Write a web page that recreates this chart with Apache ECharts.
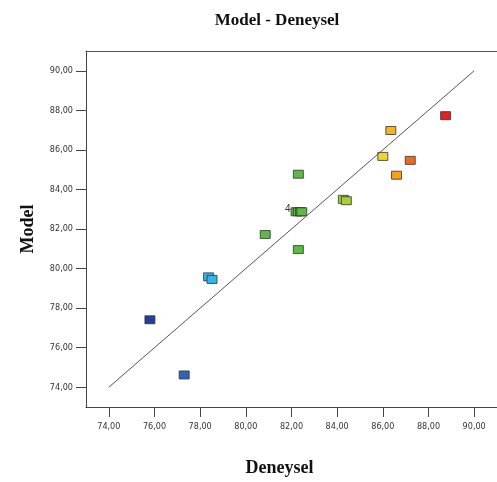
<!DOCTYPE html>
<html>
<head>
<meta charset="utf-8">
<script src="https://cdn.jsdelivr.net/npm/echarts@6/dist/echarts.min.js"></script>
<style>
  html, body { margin: 0; padding: 0; background: #fff; }
  #chart { width: 497px; height: 482px; }
</style>
</head>
<body>
<div id="chart"></div>
<script>
// Experimental (Deneysel) vs. predicted (Model) values
const deneysel = [88.75, 86.35, 86.0, 87.2, 86.6, 82.3, 84.27, 84.4, 82.2, 82.3, 82.4, 82.45, 80.85, 82.3, 78.37, 78.52, 75.8, 77.3];
const model    = [87.73, 86.98, 85.67, 85.47, 84.72, 84.77, 83.5, 83.43, 82.87, 82.87, 82.87, 82.87, 81.72, 80.96, 79.58, 79.45, 77.41, 74.62];
// Replicate count shown beside a point ('' = none)
const tekrar   = ['', '', '', '', '', '', '', '', '4', '', '', '', '', '', '', '', '', ''];
// Tick values on both axes
const tickDegerleri = [74, 76, 78, 80, 82, 84, 86, 88, 90];
// Ideal-fit reference line y = x
const referansX = [74, 90];

const fmt = v => v.toFixed(2).replace('.', ',');
const points = deneysel.map((x, i) => [x, model[i]]);
const refLine = referansX.map(v => [v, v]);

const tickFont = "'DejaVu Sans Condensed', 'Liberation Sans', sans-serif";
const axisCommon = {
  type: 'value', min: 73, max: 91,
  axisLine: { show: true, lineStyle: { color: '#444', width: 1 } },
  axisTick: { show: true, length: 10, customValues: tickDegerleri, lineStyle: { color: '#444' } },
  axisLabel: {
    customValues: tickDegerleri, formatter: fmt,
    fontFamily: tickFont, fontSize: 9, color: '#333'
  },
  splitLine: { show: false }
};

const chart = echarts.init(document.getElementById('chart'), null, { renderer: 'canvas' });
chart.setOption({
  animation: false,
  backgroundColor: '#fff',
  title: {
    text: 'Model - Deneysel', left: 272, top: 7, textAlign: 'center',
    textStyle: { fontFamily: 'Liberation Serif', fontWeight: 'bold', fontSize: 17, color: '#111' }
  },
  grid: { left: 86, top: 51, width: 412, height: 359 },
  xAxis: [
    Object.assign({}, axisCommon, {
      name: 'Deneysel', nameLocation: 'middle', nameGap: 52,
      nameTextStyle: { fontFamily: 'Liberation Serif', fontWeight: 'bold', fontSize: 18, color: '#111', padding: [0, 24, 0, 0] },
      axisLabel: Object.assign({}, axisCommon.axisLabel, { margin: 15 })
    }),
    {
      type: 'value', min: 73, max: 91, position: 'top',
      axisLine: { show: true, lineStyle: { color: '#555', width: 1 } },
      axisTick: { show: false }, axisLabel: { show: false }, splitLine: { show: false }
    }
  ],
  yAxis: Object.assign({}, axisCommon, {
    name: 'Model', nameLocation: 'middle', nameGap: 49, nameRotate: 90,
    nameTextStyle: { fontFamily: 'Liberation Serif', fontWeight: 'bold', fontSize: 18, color: '#111' },
    axisLabel: Object.assign({}, axisCommon.axisLabel, { margin: 13 })
  }),
  visualMap: {
    show: false, type: 'piecewise', dimension: 0, seriesIndex: 1,
    pieces: [
      { lt: 76.5, color: '#22409a' },
      { gte: 76.5, lt: 78, color: '#3462b8' },
      { gte: 78, lt: 79.5, color: '#36b4e6' },
      { gte: 79.5, lt: 83.5, color: '#5cb946' },
      { gte: 83.5, lt: 85, color: '#a6cf38' },
      { gte: 85, lt: 86.2, color: '#f1d62a' },
      { gte: 86.2, lt: 86.45, color: '#f4b51c' },
      { gte: 86.45, lt: 86.9, color: '#f4a020' },
      { gte: 86.9, lt: 88, color: '#ec6b1b' },
      { gte: 88, color: '#e4211e' }
    ]
  },
  series: [
    {
      type: 'line', data: refLine, showSymbol: false, silent: true,
      lineStyle: { color: '#555', width: 1 }
    },
    {
      type: 'scatter', data: points, symbol: 'rect', symbolSize: [10, 8],
      itemStyle: { borderColor: '#333', borderWidth: 0.8, opacity: 1 },
      label: {
        show: true, position: 'left', distance: 1, offset: [1, -3],
        formatter: p => tekrar[p.dataIndex],
        fontFamily: 'Liberation Sans', fontSize: 10, color: '#333'
      }
    }
  ]
});
</script>
</body>
</html>
